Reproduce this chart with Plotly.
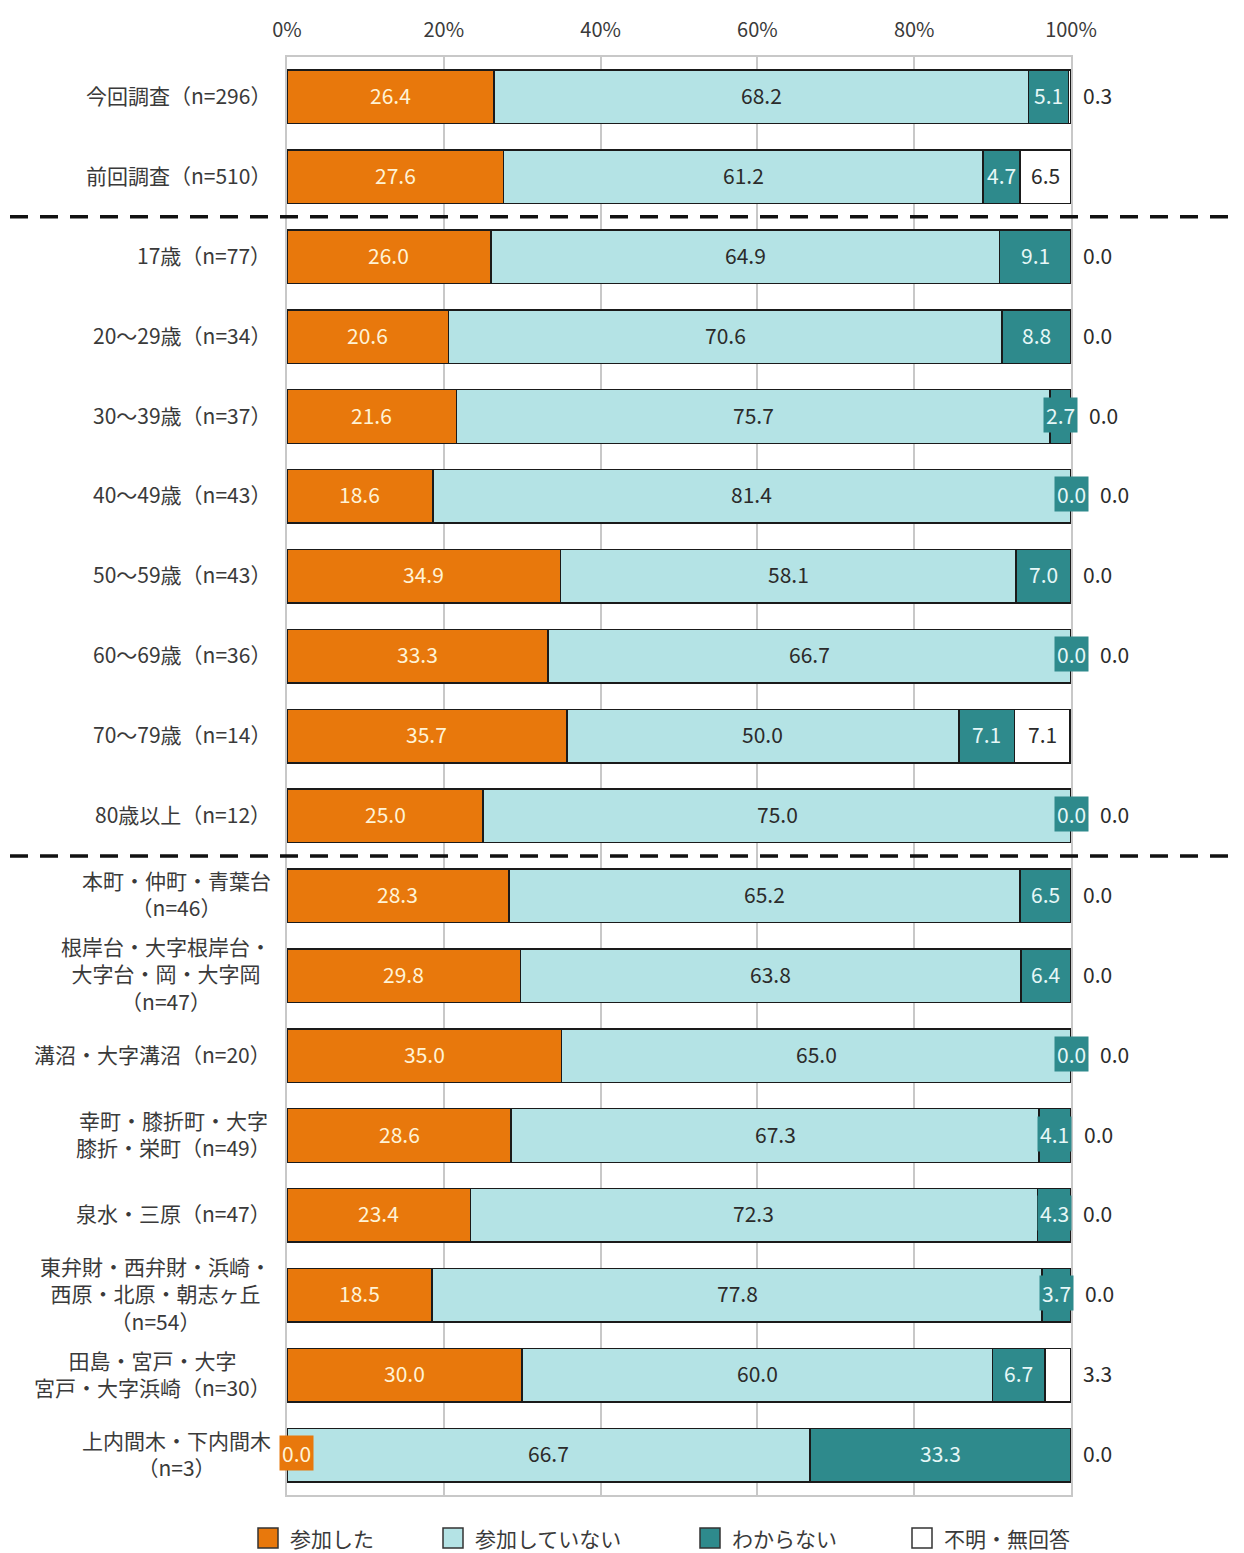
import plotly.graph_objects as go

categories = [
    "今回調査（n=296）",
    "前回調査（n=510）",
    "17歳（n=77）",
    "20～29歳（n=34）",
    "30～39歳（n=37）",
    "40～49歳（n=43）",
    "50～59歳（n=43）",
    "60～69歳（n=36）",
    "70～79歳（n=14）",
    "80歳以上（n=12）",
    "本町・仲町・青葉台<br>（n=46）",
    "根岸台・大字根岸台・<br>大字台・岡・大字岡<br>（n=47）",
    "溝沼・大字溝沼（n=20）",
    "幸町・膝折町・大字<br>膝折・栄町（n=49）",
    "泉水・三原（n=47）",
    "東弁財・西弁財・浜崎・<br>西原・北原・朝志ヶ丘<br>（n=54）",
    "田島・宮戸・大字<br>宮戸・大字浜崎（n=30）",
    "上内間木・下内間木<br>（n=3）",
]
participated = [26.4, 27.6, 26.0, 20.6, 21.6, 18.6, 34.9, 33.3, 35.7, 25.0, 28.3, 29.8, 35.0, 28.6, 23.4, 18.5, 30.0, 0.0]
not_participated = [68.2, 61.2, 64.9, 70.6, 75.7, 81.4, 58.1, 66.7, 50.0, 75.0, 65.2, 63.8, 65.0, 67.3, 72.3, 77.8, 60.0, 66.7]
dont_know = [5.1, 4.7, 9.1, 8.8, 2.7, 0.0, 7.0, 0.0, 7.1, 0.0, 6.5, 6.4, 0.0, 4.1, 4.3, 3.7, 6.7, 33.3]
no_answer = [0.3, 6.5, 0.0, 0.0, 0.0, 0.0, 0.0, 0.0, 7.1, 0.0, 0.0, 0.0, 0.0, 0.0, 0.0, 0.0, 3.3, 0.0]
series_names = ["参加した", "参加していない", "わからない", "不明・無回答"]
tick_vals = [0, 20, 40, 60, 80, 100]
tick_text = ["0%", "20%", "40%", "60%", "80%", "100%"]
separators_after = [1, 9]

ORANGE = "#E8780C"
CYAN = "#B4E3E5"
TEAL = "#2E8A8C"
WHITE = "#FFFFFF"
colors = [ORANGE, CYAN, TEAL, WHITE]
FONT = "Noto Sans CJK JP"

# page has an 8px body margin; work in figure coordinates
OFF = 8
W, H = 1244, 1553
L, T = 287 - OFF, 57 - OFF
PW = 784
PH = 1438
R = W - L - PW
B = H - T - PH


def px_to_paper_x(page_x):
    return (page_x - OFF - L) / PW


def py_to_paper_y(page_y):
    return (T + PH - (page_y - OFF)) / PH


fig = go.Figure()
for name, vals, col in zip(series_names, [participated, not_participated, dont_know, no_answer], colors):
    fig.add_trace(go.Bar(
        y=categories, x=vals, name=name, orientation="h",
        marker=dict(color=col, line=dict(color="#1a1a1a", width=1.5)),
        showlegend=False, hoverinfo="x+y",
    ))

ann = []
num_font = dict(family=FONT, size=21)
for i, cat in enumerate(categories):
    a, b, c, d = participated[i], not_participated[i], dont_know[i], no_answer[i]
    if a > 0:
        ann.append(dict(x=a / 2, y=cat, text=f"{a:.1f}", showarrow=False, yshift=2,
                        font=dict(num_font, color="#FFF3D6")))
    else:
        ann.append(dict(x=0, y=cat, text=f"{a:.1f}", showarrow=False, xanchor="left", xshift=-8, yshift=2,
                        bgcolor=ORANGE, borderpad=2, font=dict(num_font, color="#FFF3D6")))
    ann.append(dict(x=a + b / 2, y=cat, text=f"{b:.1f}", showarrow=False, yshift=2,
                    font=dict(num_font, color="#2b2b2b")))
    tc = a + b + c / 2
    if c >= 5:
        ann.append(dict(x=tc, y=cat, text=f"{c:.1f}", showarrow=False, yshift=2,
                        font=dict(num_font, color="#E6F7F7")))
    else:
        ann.append(dict(x=tc, y=cat, text=f"{c:.1f}", showarrow=False, bgcolor=TEAL, borderpad=2, yshift=2,
                        font=dict(num_font, color="#E6F7F7")))
    if d >= 5:
        ann.append(dict(x=a + b + c + d / 2, y=cat, text=f"{d:.1f}", showarrow=False, yshift=2,
                        font=dict(num_font, color="#2b2b2b")))
    else:
        teal_right_px = tc * PW / 100 + 22
        if c < 5 and teal_right_px > PW:
            shift = teal_right_px - PW + 5
        else:
            shift = 10
        ann.append(dict(x=100, y=cat, text=f"{d:.1f}", showarrow=False, xanchor="left", xshift=shift, yshift=2,
                        font=dict(num_font, color="#2b2b2b")))
    ann.append(dict(x=px_to_paper_x(273), xref="paper", y=cat, yref="y", text=cat, showarrow=False,
                    xanchor="right", align="center", yshift=2,
                    font=dict(family=FONT, size=21, color="#3a3a3a")))

# manual legend
legend_x = [258, 443, 700, 912]
ly = 1538
for name, col, lx in zip(series_names, colors, legend_x):
    fig.add_shape(type="rect", xref="paper", yref="paper",
                  x0=px_to_paper_x(lx), x1=px_to_paper_x(lx + 20),
                  y0=py_to_paper_y(ly - 10), y1=py_to_paper_y(ly + 10),
                  fillcolor=col, line=dict(color="#333333", width=1.5))
    ann.append(dict(x=px_to_paper_x(lx + 30), xref="paper", y=py_to_paper_y(ly), yref="paper",
                    text=name, showarrow=False, xanchor="left", yanchor="middle",
                    font=dict(family=FONT, size=21, color="#3a3a3a")))

for s in separators_after:
    fig.add_shape(type="line", xref="paper", yref="y",
                  x0=px_to_paper_x(10), x1=px_to_paper_x(W), y0=s + 0.5, y1=s + 0.5,
                  line=dict(color="#111111", width=3.5, dash="18px,12px"), layer="above")

fig.update_layout(
    width=W, height=H,
    margin=dict(l=L, r=R, t=T, b=B, autoexpand=False),
    barmode="stack", bargap=0.33,
    plot_bgcolor="white", paper_bgcolor="white",
    annotations=ann,
    xaxis=dict(range=[0, 100], side="top", tickvals=tick_vals, ticktext=tick_text,
               showgrid=True, gridcolor="#C8C8C8", gridwidth=1.5, zeroline=False,
               showline=True, linecolor="#C8C8C8", linewidth=1.5, mirror=True,
               ticks="", ticklabelstandoff=10, automargin=False,
               tickfont=dict(family=FONT, size=20, color="#3a3a3a"), fixedrange=True),
    yaxis=dict(categoryorder="array", categoryarray=categories, autorange="reversed",
               showticklabels=False, showgrid=False, zeroline=False, automargin=False,
               showline=True, linecolor="#C8C8C8", linewidth=1.5, mirror=True, ticks=""),
)

fig.write_html("out.html")
